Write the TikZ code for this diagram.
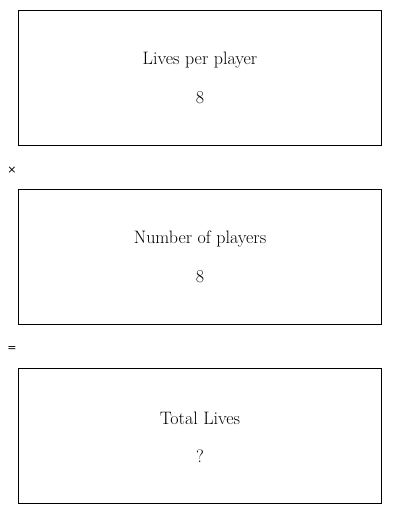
\documentclass[tikz,border=0pt]{standalone}
\usepackage{fontspec}
\newfontfamily\symfont{DejaVu Sans}
\begin{document}
\begin{tikzpicture}[x=1pt,y=-1pt,
  box/.style={draw=black,line width=0.8pt,minimum width=363pt,minimum height=135pt,inner sep=0pt,anchor=north west},
  lbl/.style={font=\fontsize{18}{20}\selectfont,inner sep=0pt},
  op/.style={font=\symfont\fontsize{11}{13}\selectfont,inner sep=0pt}]
\useasboundingbox (0,0) rectangle (400,514);
\node[box] (b1) at (18,10) {};
\node[box] (b2) at (18,189) {};
\node[box] (b3) at (18,368) {};
\node[lbl] (t1) at (200,60) {Lives per player};
\node[lbl] (v1) at (200,98) {8};
\node[lbl] (t2) at (200,239) {Number of players};
\node[lbl] (v2) at (200,277) {8};
\node[lbl] (t3) at (200,418) {Total Lives};
\node[lbl] (v3) at (200,456) {?};
\node[op] (times) at (12,170) {×};
\node[op] (eq) at (12,349) {=};
\end{tikzpicture}
\end{document}
